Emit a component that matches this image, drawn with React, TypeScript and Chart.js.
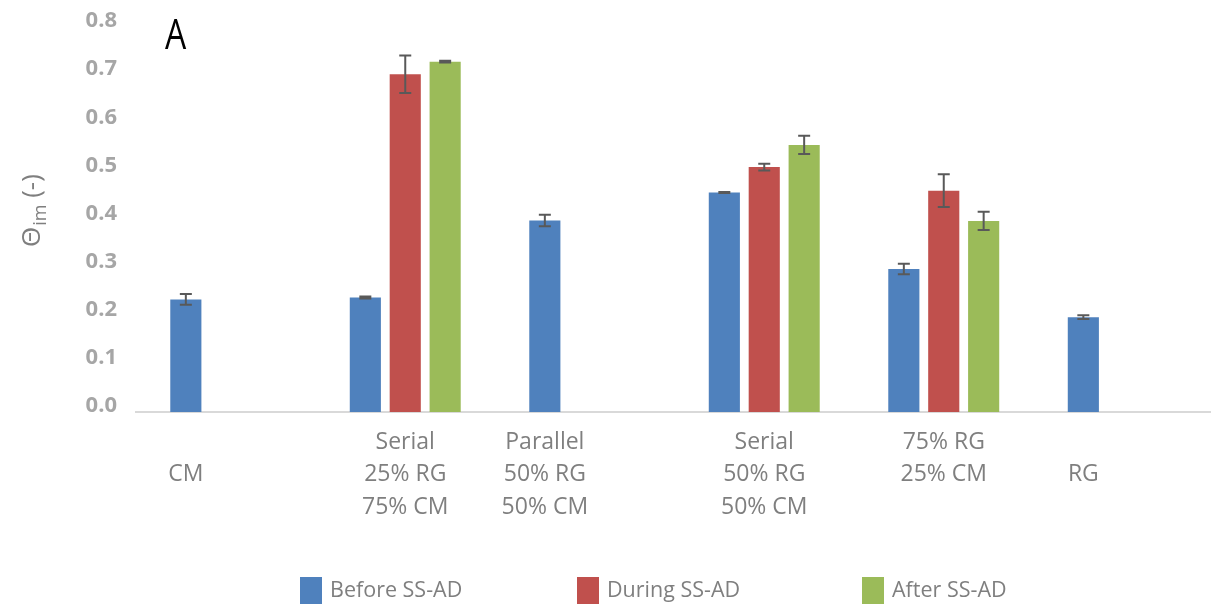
import React, { useEffect, useRef } from "react";
import { Chart, registerables } from "chart.js";

Chart.register(...registerables);

const categories: string[][] = [
  ["", "CM"],
  ["Serial", "25% RG", "75% CM"],
  ["Parallel", "50% RG", "50% CM"],
  ["Serial", "50% RG", "50% CM"],
  ["75% RG", "25% CM"],
  ["", "RG"],
];
const seriesNames = ["Before SS-AD", "During SS-AD", "After SS-AD"];
const seriesColors = ["#4f81bd", "#c0504d", "#9bbb59"];
const beforeValues = [0.234, 0.238, 0.398, 0.456, 0.297, 0.197];
const beforeErrors = [0.011, 0.002, 0.012, 0.001, 0.011, 0.004];
const duringValues = [null, 0.702, null, 0.509, 0.46, null];
const duringErrors = [null, 0.039, null, 0.007, 0.034, null];
const afterValues = [null, 0.728, null, 0.555, 0.397, null];
const afterErrors = [null, 0.002, null, 0.019, 0.019, null];
const yTicks = [0, 0.1, 0.2, 0.3, 0.4, 0.5, 0.6, 0.7, 0.8];

const FONT = "'Open Sans', sans-serif";
const W = 1320;
const H = 604;

const errorBarPlugin = {
  id: "errorBars",
  afterDatasetsDraw(chart: any) {
    const ctx = chart.ctx;
    const yScale = chart.scales.y;
    chart.data.datasets.forEach((ds: any, i: number) => {
      const meta = chart.getDatasetMeta(i);
      const errs = ds.errors as (number | null)[];
      ds.data.forEach((v: number | null, j: number) => {
        const e = errs[j];
        if (v == null || e == null) return;
        const x = meta.data[j].x;
        const yt = yScale.getPixelForValue(v + e);
        const yb = yScale.getPixelForValue(v - e);
        ctx.save();
        ctx.strokeStyle = "#595959";
        ctx.lineWidth = 2;
        ctx.beginPath();
        ctx.moveTo(x, yt);
        ctx.lineTo(x, yb);
        ctx.moveTo(x - 6, yt);
        ctx.lineTo(x + 6, yt);
        ctx.moveTo(x - 6, yb);
        ctx.lineTo(x + 6, yb);
        ctx.stroke();
        ctx.restore();
      });
    });
  },
};

// Category labels: centred under the bars that are present in each group
const categoryLabelPlugin = {
  id: "categoryLabels",
  afterDraw(chart: any) {
    const ctx = chart.ctx;
    const bottom = chart.chartArea.bottom;
    const lineH = 32.5;
    ctx.save();
    ctx.fillStyle = "#7f7f7f";
    ctx.font = `23px ${FONT}`;
    ctx.textAlign = "center";
    ctx.textBaseline = "middle";
    (chart.data.labels as string[][]).forEach((lines, j) => {
      const xs: number[] = [];
      chart.data.datasets.forEach((ds: any, i: number) => {
        if (ds.data[j] != null) xs.push(chart.getDatasetMeta(i).data[j].x);
      });
      const cx = xs.length
        ? xs.reduce((a, b) => a + b, 0) / xs.length
        : chart.scales.x.getPixelForValue(j);
      lines.forEach((t, k) => {
        ctx.fillText(t, cx, bottom + 30 + k * lineH);
      });
    });
    ctx.restore();
  },
};

const decorPlugin = {
  id: "decor",
  afterDraw(chart: any) {
    const ctx = chart.ctx;
    // Panel letter
    ctx.save();
    ctx.fillStyle = "#000000";
    ctx.font = `42px ${FONT}`;
    ctx.textBaseline = "alphabetic";
    ctx.translate(165, 49);
    ctx.scale(0.8, 1);
    ctx.fillText("A", 0, 0);
    ctx.restore();

    // Y axis title with subscript
    ctx.save();
    ctx.fillStyle = "#7f7f7f";
    ctx.textBaseline = "alphabetic";
    ctx.translate(40, 247);
    ctx.rotate(-Math.PI / 2);
    ctx.font = `26px ${FONT}`;
    ctx.fillText("Θ", 0, 0);
    let off = ctx.measureText("Θ").width + 1;
    ctx.font = `18px ${FONT}`;
    ctx.fillText("im", off, 6);
    off += ctx.measureText("im").width;
    ctx.font = `26px ${FONT}`;
    ctx.fillText(" (-)", off, 0);
    ctx.restore();

    // Legend
    const legendX = [300, 577, 862];
    ctx.save();
    ctx.font = `21.5px ${FONT}`;
    ctx.textBaseline = "middle";
    chart.data.datasets.forEach((ds: any, i: number) => {
      ctx.fillStyle = ds.backgroundColor;
      ctx.fillRect(legendX[i], 577, 22, 27);
      ctx.fillStyle = "#7f7f7f";
      ctx.fillText(ds.label, legendX[i] + 30, 591);
    });
    ctx.restore();
  },
};

export default function App() {
  const ref = useRef<HTMLCanvasElement>(null);
  useEffect(() => {
    if (!ref.current) return;
    const mk = (i: number, data: any[], errors: any[]) => ({
      label: seriesNames[i],
      data,
      errors,
      backgroundColor: seriesColors[i],
      borderWidth: 0,
      categoryPercentage: 0.667,
      barPercentage: 0.78,
    });
    const chart = new Chart(ref.current, {
      type: "bar",
      data: {
        labels: categories as any,
        datasets: [
          mk(0, beforeValues, beforeErrors),
          mk(1, duringValues, duringErrors),
          mk(2, afterValues, afterErrors),
        ] as any,
      },
      options: {
        animation: false,
        responsive: false,
        layout: { padding: { top: 27, right: 107, bottom: 0, left: 0 } },
        plugins: { legend: { display: false }, tooltip: { enabled: false } },
        scales: {
          x: {
            grid: { display: false, drawTicks: false },
            border: { display: true, color: "#d9d9d9", width: 2 },
            ticks: { display: false },
            afterFit(scale: any) {
              scale.height = 192;
              scale.paddingLeft = 0;
              scale.paddingRight = 0;
            },
          },
          y: {
            min: 0,
            max: 0.8,
            afterBuildTicks(scale: any) {
              scale.ticks = yTicks.map((v) => ({ value: v }));
            },
            grid: { display: false, drawTicks: false },
            border: { display: false },
            ticks: {
              padding: 19,
              labelOffset: -6,
              color: "#a6a6a6",
              font: { family: FONT, size: 22, weight: "bold", lineHeight: 0.5 },
              callback: (v: any) => Number(v).toFixed(1),
            },
            afterFit(scale: any) {
              scale.width = 136;
              scale.paddingTop = 0;
              scale.paddingBottom = 0;
            },
          },
        },
      } as any,
      plugins: [errorBarPlugin, categoryLabelPlugin, decorPlugin],
    });
    return () => chart.destroy();
  }, []);
  return (
    <div
      style={{
        position: "absolute",
        left: 0,
        top: 0,
        width: 1211,
        height: 604,
        overflow: "hidden",
        background: "#ffffff",
      }}
    >
      <canvas ref={ref} width={W} height={H} style={{ display: "block" }} />
    </div>
  );
}
